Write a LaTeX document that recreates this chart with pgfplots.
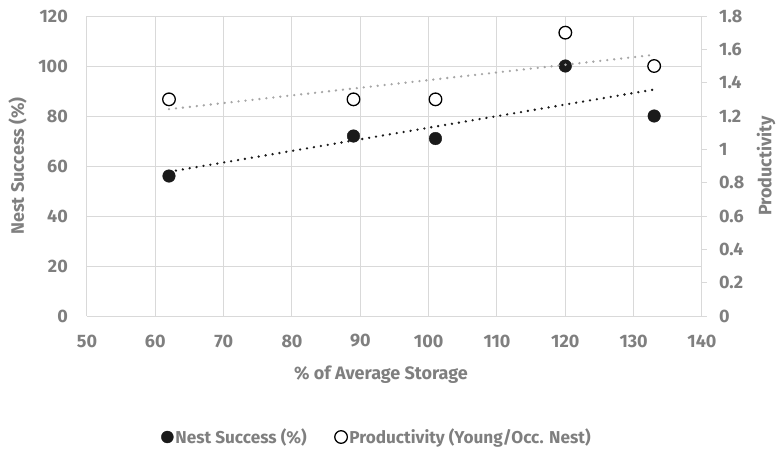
\documentclass[border=0pt]{standalone}
\usepackage{pgfplots}
\pgfplotsset{compat=1.18}
\usepackage{fontspec}
\setmainfont{Fira Sans}
\definecolor{txt}{HTML}{7F7F7F}
\definecolor{gridc}{HTML}{D9D9D9}
\definecolor{trendg}{HTML}{A6A6A6}
\definecolor{dot}{HTML}{1A1A1A}
\begin{document}
\begin{tikzpicture}[font=\bfseries]
\useasboundingbox (-87pt,-135pt) rectangle (693pt,316pt);
% left axis: nest success
\begin{axis}[
    scale only axis,
    width=615pt, height=300pt,
    xmin=50, xmax=140, ymin=0, ymax=120,
    xtick distance=10, ytick distance=20,
    axis y line*=left, axis x line*=bottom,
    x axis line style={draw=gridc, line width=1pt, -},
    y axis line style={draw=none},
    major tick style={draw=none},
    grid=major, major grid style={gridc, line width=1pt},
    tick label style={txt, font=\fontsize{18}{21}\selectfont\bfseries, inner sep=0pt},
    /pgf/number format/assume math mode=true,
    xticklabel style={anchor=center, yshift=-25pt},
    yticklabel style={anchor=east, xshift=-19pt},
    xlabel={\% of Average Storage},
    ylabel={Nest Success (\%)},
    label style={txt, font=\fontsize{18}{21}\selectfont\bfseries},
    xlabel style={at={(axis description cs:0.478,-0.197)}, anchor=center},
    ylabel style={at={(axis description cs:-0.113,0.5)}, anchor=center},
    clip=false,
]
  % trend line (least squares)
  \addplot[dot, line width=2.6pt, line cap=round, dash pattern=on 0pt off 7pt, forget plot]
    coordinates {(62,57.7) (133,90.6)};
  \addplot[only marks, mark=*, mark size=6.3pt, mark options={fill=dot, draw=dot}]
    coordinates {(62,56) (89,72) (101,71) (120,100) (133,80)};
\end{axis}
% right axis: productivity
\begin{axis}[
    scale only axis,
    width=615pt, height=300pt,
    xmin=50, xmax=140, ymin=0, ymax=1.8,
    ytick distance=0.2,
    axis y line*=right, axis x line=none,
    y axis line style={draw=gridc, line width=1pt, -},
    ytick style={draw=gridc, line width=1pt},
    tick align=outside, major tick length=5pt,
    tick label style={txt, font=\fontsize{18}{21}\selectfont\bfseries, inner sep=0pt},
    /pgf/number format/assume math mode=true,
    yticklabel style={anchor=west},
    yticklabel shift=12pt,
    ylabel={Productivity},
    ylabel style={txt, font=\fontsize{18}{21}\selectfont\bfseries,
      at={(axis description cs:1.104,0.5)}, anchor=center},
    legend style={draw=none, fill=none, at={(290pt,-121pt)}, anchor=center,
      legend columns=2, font=\fontsize{17.2}{20}\selectfont\bfseries\color{txt},
      /tikz/every even column/.append style={column sep=26pt}},
    legend cell align=left,
    clip=false,
]
  \addlegendimage{only marks, mark=*, mark size=6pt, mark options={fill=dot, draw=dot}}
  \addlegendentry{Nest Success (\%)}
  \addplot[trendg, line width=2.6pt, line cap=round, dash pattern=on 0pt off 7pt, forget plot]
    coordinates {(62,1.241) (133,1.567)};
  \addplot[only marks, mark=*, mark size=6.3pt, mark options={fill=white, draw=black, line width=1.3pt}]
    coordinates {(62,1.3) (89,1.3) (101,1.3) (120,1.7) (133,1.5)};
  \addlegendentry{Productivity (Young/Occ. Nest)}
\end{axis}
\end{tikzpicture}
\end{document}
